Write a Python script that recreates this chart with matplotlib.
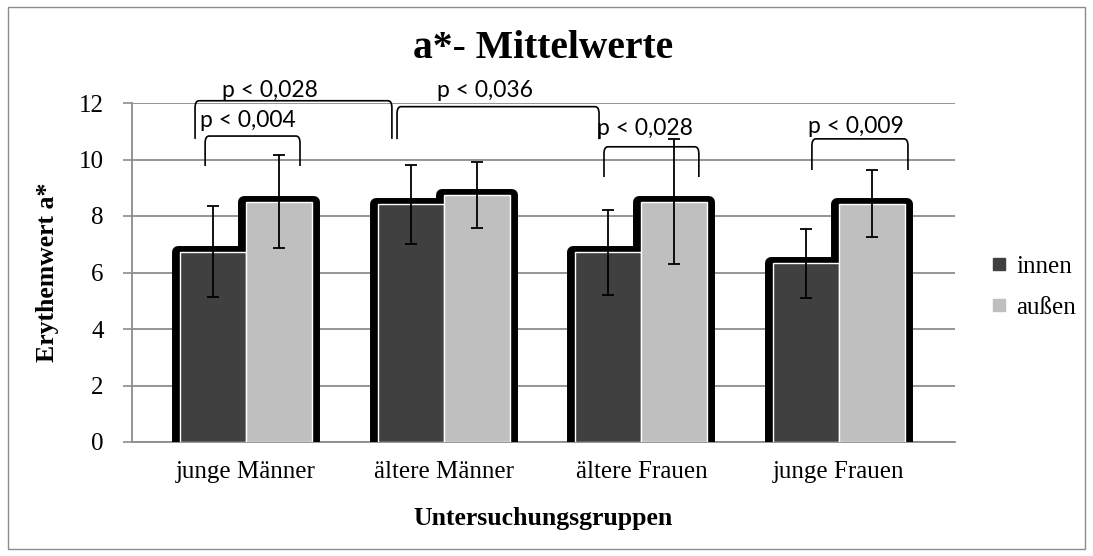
import matplotlib
matplotlib.use("Agg")
import matplotlib.pyplot as plt
from matplotlib.path import Path
from matplotlib.patches import PathPatch, Rectangle
from matplotlib.lines import Line2D

# ---- data -------------------------------------------------------------
groups = ["junge Männer", "ältere Männer", "ältere Frauen", "junge Frauen"]
innen = [6.73, 8.41, 6.71, 6.33]
innen_sd = [1.61, 1.39, 1.50, 1.22]
aussen = [8.51, 8.74, 8.51, 8.44]
aussen_sd = [1.65, 1.18, 2.21, 1.20]
series_names = ["innen", "außen"]
y_ticks = [0, 2, 4, 6, 8, 10, 12]

# significance brackets: text, left x, right x, top y, leg-end y (data units)
sig_text = ["p < 0,028", "p < 0,004", "p < 0,036", "p < 0,028", "p < 0,009"]
sig_left = [-0.258, -0.207, 0.764, 1.811, 2.863]
sig_right = [0.738, 0.273, 1.786, 2.291, 3.349]
sig_top = [12.08, 10.83, 11.87, 10.45, 10.73]
sig_leg = [10.73, 9.77, 10.72, 9.38, 9.63]
sig_text_x = [0.121, 0.010, 1.209, 2.018, 3.086]
sig_text_y = [12.21, 11.15, 12.21, 10.87, 10.94]

# ---- style ------------------------------------------------------------
SERIF = ["Liberation Serif", "DejaVu Serif"]
SANS = ["Lato", "DejaVu Sans"]
DARK = "#404040"
LIGHT = "#bfbfbf"
GRID = "#8c8c8c"

W, H = 1093, 556
fig = plt.figure(figsize=(W / 100, H / 100), dpi=100)
ax = fig.add_axes([132 / W, 114 / H, (955 - 132) / W, (442 - 103) / H])

bar_w = 0.334
x = list(range(len(groups)))
x_in = [i - bar_w / 2 for i in x]
x_out = [i + bar_w / 2 for i in x]

ax.set_xlim(-0.577, 3.587)
ax.set_ylim(0, 12)

# black rounded halo behind every bar
halo_w = bar_w + 4 / 197.7
for xs, vals in ((x_in, innen), (x_out, aussen)):
    ax.bar(xs, vals, halo_w, color="black", edgecolor="black",
           linewidth=8.6, joinstyle="round", zorder=2)

# the bars themselves
ax.bar(x_in, innen, bar_w, color=DARK, edgecolor="white", linewidth=1.0,
       zorder=3, label=series_names[0])
ax.bar(x_out, aussen, bar_w, color=LIGHT, edgecolor="white", linewidth=1.0,
       zorder=3, label=series_names[1])

# standard deviations
for xs, vals, sd in ((x_in, innen, innen_sd), (x_out, aussen, aussen_sd)):
    ax.errorbar(xs, vals, yerr=sd, fmt="none", ecolor="black",
                elinewidth=1.3, capsize=4.5, capthick=1.3, zorder=4)

# axes, grid, ticks
ax.set_yticks(y_ticks)
ax.set_yticklabels([str(v) for v in y_ticks], fontfamily=SERIF, fontsize=18)
ax.set_xticks(x)
ax.set_xticklabels(groups, fontfamily=SERIF, fontsize=18)
ax.tick_params(axis="x", length=0, pad=14)
ax.tick_params(axis="y", length=6.5, width=1.2, color=GRID, pad=14)
ax.yaxis.grid(True, color=GRID, linewidth=1.3)
ax.set_axisbelow(True)
for side in ("top", "right"):
    ax.spines[side].set_visible(False)
for side in ("left", "bottom"):
    ax.spines[side].set_color(GRID)
    ax.spines[side].set_linewidth(1.3)
    ax.spines[side].set_zorder(1)

ax.set_xlabel("Untersuchungsgruppen", fontfamily=SERIF, fontsize=18.5,
              fontweight="bold", labelpad=17)
ax.set_ylabel("Erythemwert a*", fontfamily=SERIF, fontsize=18.5,
              fontweight="bold", labelpad=14)
fig.text(543 / W, 1 - 49 / H, "a*- Mittelwerte", fontfamily=SERIF,
         fontsize=28.5, fontweight="bold", ha="center", va="center")

# significance brackets with softly rounded corners
for lab, xl, xr, yt, yl, tx, ty in zip(sig_text, sig_left, sig_right, sig_top,
                                       sig_leg, sig_text_x, sig_text_y):
    dx, dy = 0.02, 0.25
    verts = [(xl, yl), (xl, yt - dy), (xl, yt), (xl + dx, yt),
             (xr - dx, yt), (xr, yt), (xr, yt - dy), (xr, yl)]
    codes = [Path.MOVETO, Path.LINETO, Path.CURVE3, Path.CURVE3,
             Path.LINETO, Path.CURVE3, Path.CURVE3, Path.LINETO]
    ax.add_patch(PathPatch(Path(verts, codes), facecolor="none",
                           edgecolor="black", linewidth=1.2, zorder=5,
                           clip_on=False))
    ax.text(tx, ty, lab, fontfamily=SANS, fontsize=16.5, ha="center",
            va="baseline", zorder=6, clip_on=False)

# legend
handles = [Line2D([], [], marker="s", linestyle="", markersize=8.5,
                  markerfacecolor=c, markeredgecolor=c) for c in (DARK, LIGHT)]
fig.legend(handles, series_names, loc="center left",
           bbox_to_anchor=(990 / W, 1 - 287 / H), frameon=False,
           prop={"family": SERIF, "size": 18}, handlelength=0.7,
           handletextpad=0.35, labelspacing=0.75, borderpad=0,
           borderaxespad=0)

# chart border
fig.add_artist(Rectangle((8 / W, 7 / H), (1085 - 8) / W, (549 - 7) / H,
                         transform=fig.transFigure, fill=False,
                         edgecolor=GRID, linewidth=1.0))

fig.savefig("out.png", dpi=100)
